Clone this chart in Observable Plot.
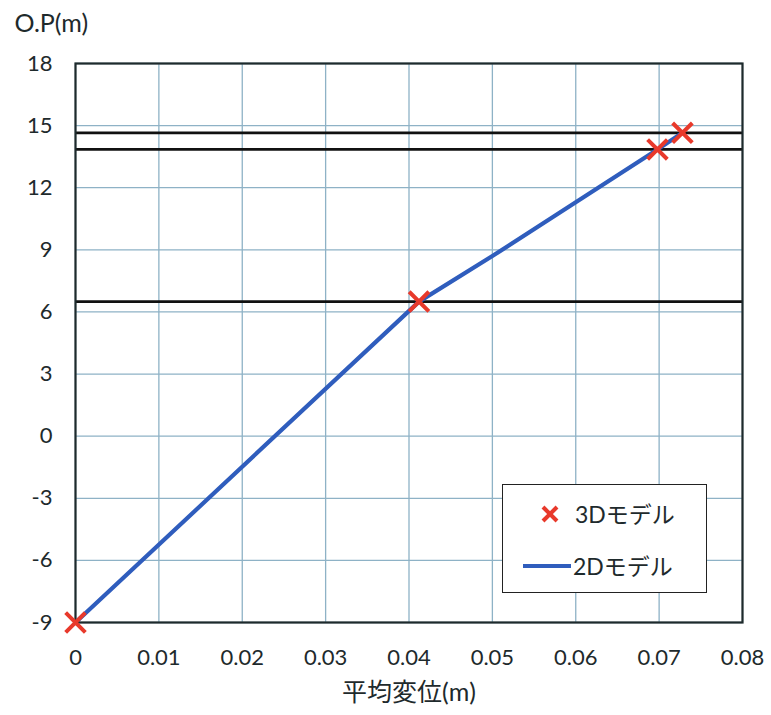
<!DOCTYPE html>
<html>
<head>
<meta charset="utf-8">
<script src="https://cdn.jsdelivr.net/npm/d3@7"></script>
<script src="https://cdn.jsdelivr.net/npm/@observablehq/plot@0.6"></script>
<style>
  html, body { margin: 0; padding: 0; background: #fff; }
  #wrap { position: relative; width: 771px; height: 715px; }
  #legend {
    position: absolute; left: 502px; top: 484px; width: 203px; height: 107px;
    border: 1.6px solid #222; background: #fff;
    font-family: Lato, "Noto Sans CJK JP", sans-serif; font-size: 23px; color: #1e2a2c;
  }
  #legend svg { position: absolute; left: 0; top: 0; }
  #legend .lbl { position: absolute; left: 72px; white-space: nowrap; line-height: 30px; }
</style>
</head>
<body>
<div id="wrap"></div>
<script>
// ---- data ----
const xTicks = [0, 0.01, 0.02, 0.03, 0.04, 0.05, 0.06, 0.07, 0.08];
const xTickLabels = ["0", "0.01", "0.02", "0.03", "0.04", "0.05", "0.06", "0.07", "0.08"];
const yTicks = [-9, -6, -3, 0, 3, 6, 9, 12, 15, 18];
const yTickLabels = ["-9", "-6", "-3", "0", "3", "6", "9", "12", "15", "18"];

const model3D_x = [0, 0.0412, 0.0698, 0.0728];
const model3D_y = [-9, 6.5, 13.85, 14.65];

const model2D_x = [0, 0.0412, 0.0500, 0.0600, 0.0698, 0.0728];
const model2D_y = [-9, 6.5, 8.7, 11.3, 13.85, 14.65];

const refLevels = [14.65, 13.85, 6.5];

const legendLabels = ["3Dモデル", "2Dモデル"];
const xLabel = "平均変位(m)";
const yLabel = "O.P(m)";

// ---- build tables ----
const d3pts = model3D_x.map((x, i) => ({x, y: model3D_y[i]}));
const d2pts = model2D_x.map((x, i) => ({x, y: model2D_y[i]}));

const red = "#e8392b";
const blue = "#2f5dbd";
const gridColor = "#8eb2c6";
const ink = "#1e2a2c";

const chart = Plot.plot({
  width: 771,
  height: 715,
  marginLeft: 75,
  marginRight: 29,
  marginTop: 63,
  marginBottom: 93,
  style: {fontFamily: 'Lato, "Noto Sans CJK JP", sans-serif', fontSize: "22px", color: ink, background: "#fff"},
  x: {domain: [0, 0.08]},
  y: {domain: [-9, 18]},
  marks: [
    Plot.gridX(xTicks, {stroke: gridColor, strokeOpacity: 1, strokeWidth: 1.3}),
    Plot.gridY(yTicks, {stroke: gridColor, strokeOpacity: 1, strokeWidth: 1.3}),
    Plot.ruleY(refLevels, {stroke: "#111", strokeWidth: 2.6}),
    Plot.line(d2pts, {x: "x", y: "y", stroke: blue, strokeWidth: 4.2}),
    Plot.frame({stroke: ink, strokeWidth: 2.2}),
    Plot.dot(d3pts, {x: "x", y: "y", symbol: "times", r: 9, stroke: red, strokeWidth: 4}),
    Plot.axisX(xTicks, {
      tickSize: 0, tickPadding: 27,
      tickFormat: (d, i) => xTickLabels[i],
      label: null, fontSize: 22
    }),
    Plot.axisY(yTicks, {
      tickSize: 0, tickPadding: 23,
      tickFormat: (d, i) => yTickLabels[i],
      label: null, fontSize: 22
    }),
    Plot.text([xLabel], {frameAnchor: "bottom", dy: 70, lineAnchor: "middle", fontSize: 25, fill: ink}),
    Plot.text([yLabel], {frameAnchor: "top-left", dx: -61, dy: -40, textAnchor: "start", lineAnchor: "middle", fontSize: 25, fill: ink})
  ]
});

const wrap = document.getElementById("wrap");
wrap.appendChild(chart);

// ---- legend ----
const legend = document.createElement("div");
legend.id = "legend";
legend.innerHTML = `
  <svg width="203" height="107">
    <g stroke="${red}" stroke-width="4" stroke-linecap="butt">
      <line x1="40" y1="22" x2="54" y2="36"></line>
      <line x1="40" y1="36" x2="54" y2="22"></line>
    </g>
    <line x1="20" y1="81" x2="68" y2="81" stroke="${blue}" stroke-width="4.2"></line>
  </svg>
  <div class="lbl" style="top:14px">${legendLabels[0]}</div>
  <div class="lbl" style="top:66px;left:70px">${legendLabels[1]}</div>
`;
wrap.appendChild(legend);
</script>
</body>
</html>
